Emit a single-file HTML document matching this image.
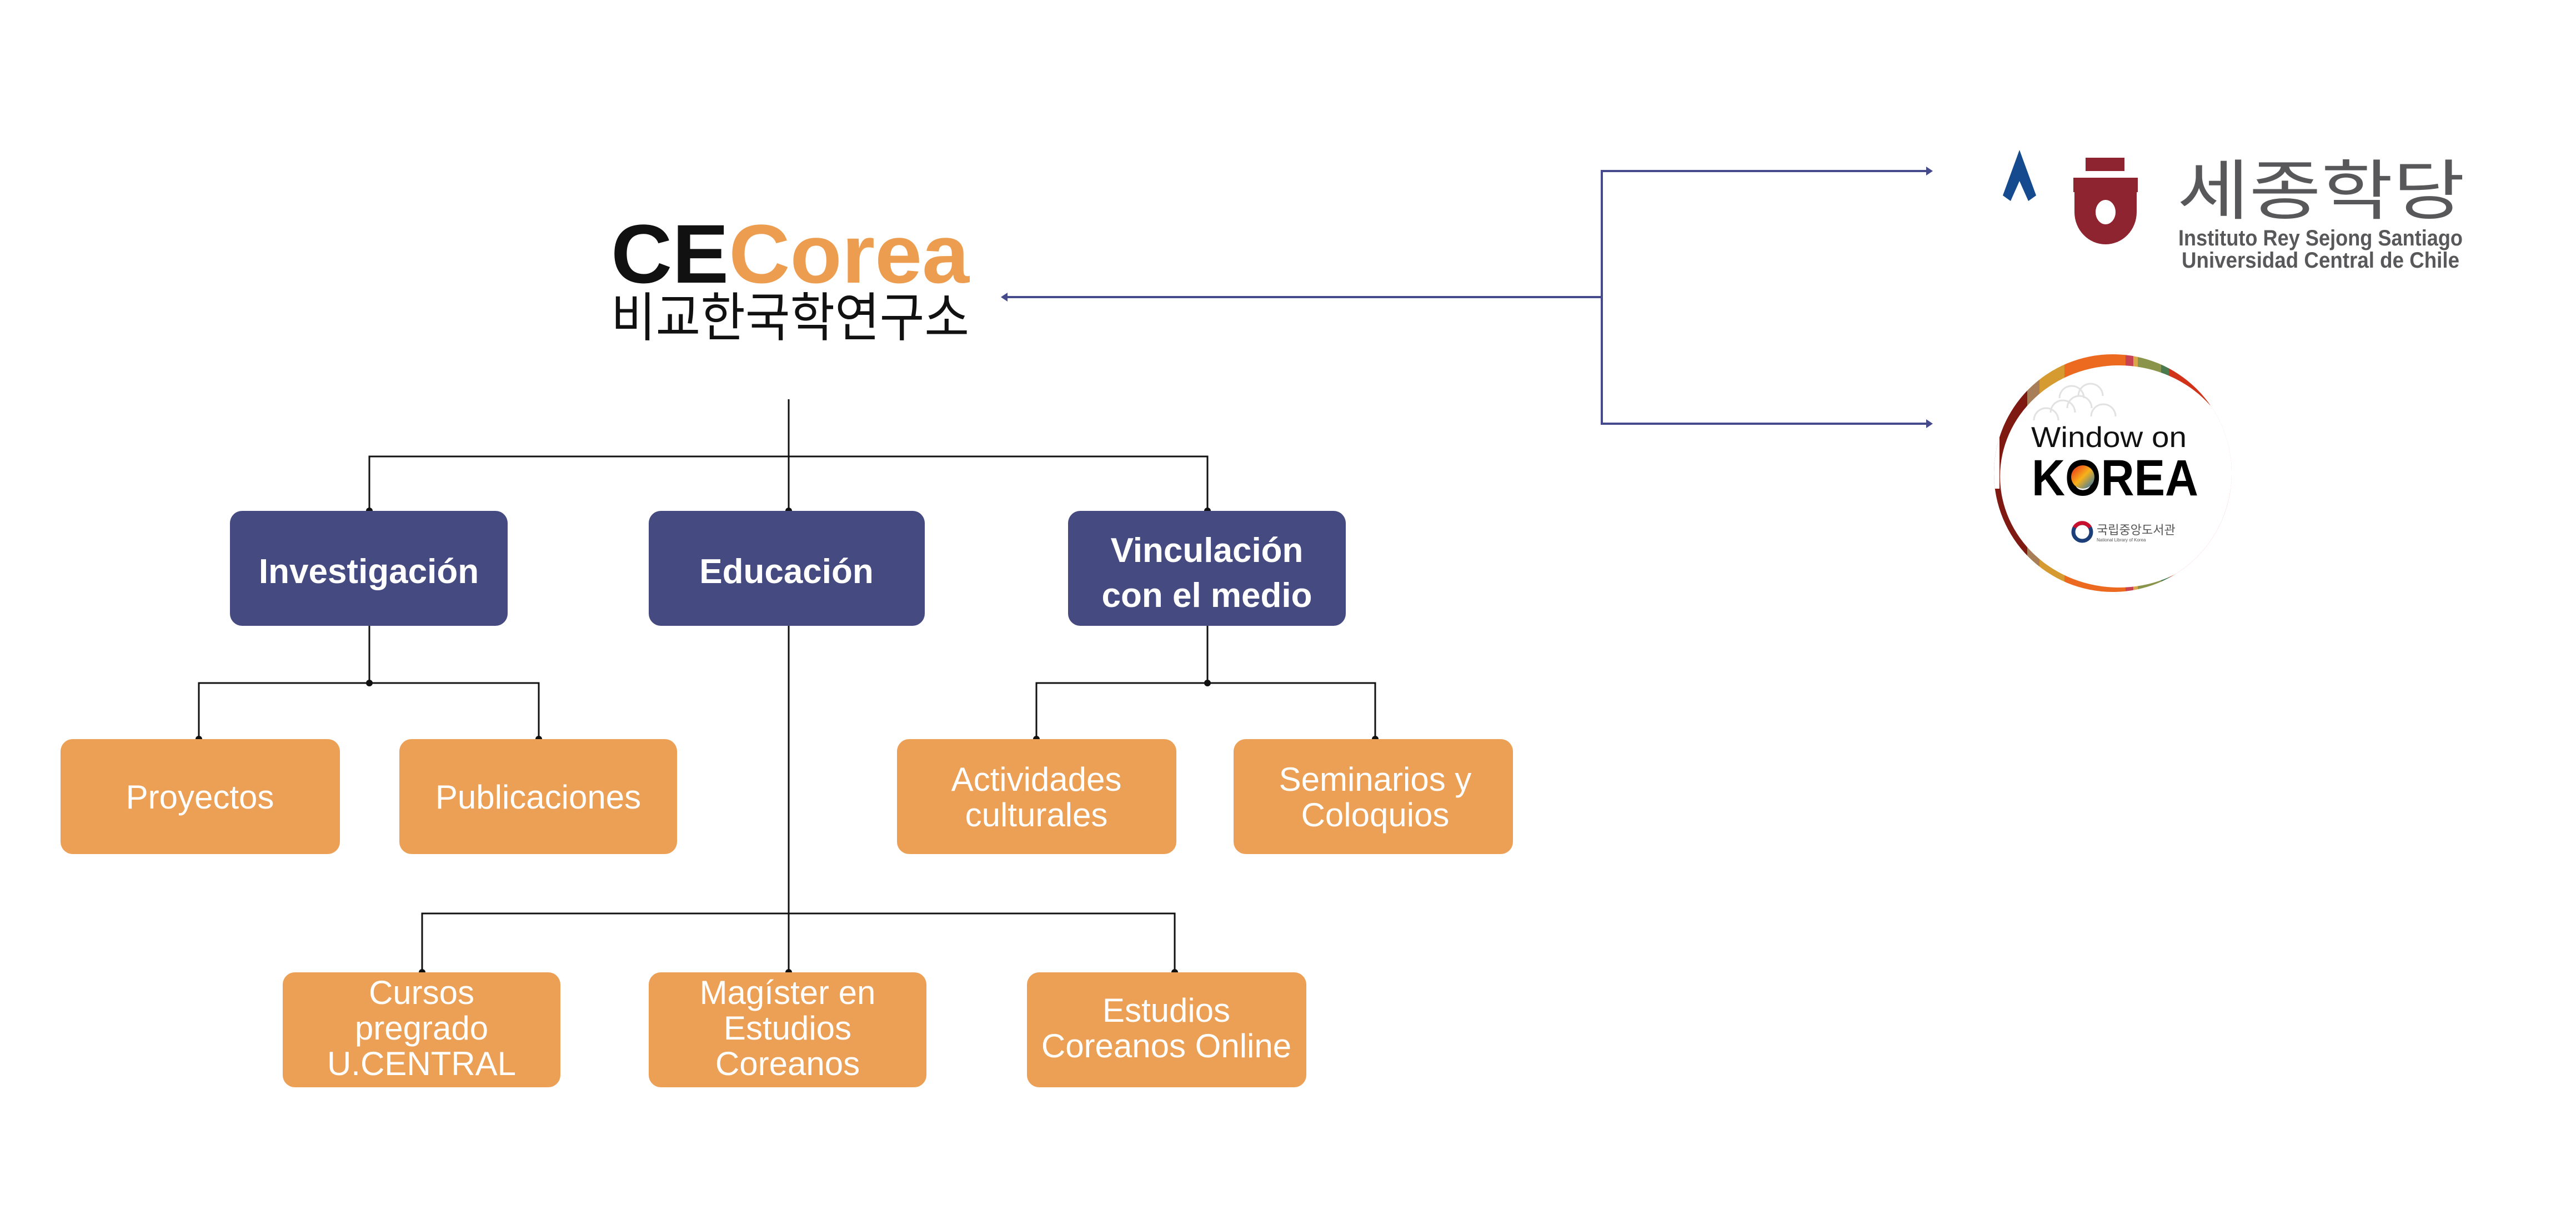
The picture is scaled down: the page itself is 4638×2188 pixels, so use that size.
<!DOCTYPE html>
<html><head><meta charset="utf-8"><style>
html,body{margin:0;padding:0;background:#fff;}
svg{display:block}
text{font-family:"Liberation Sans","Noto Sans CJK KR",sans-serif;}
</style></head><body>
<svg width="4638" height="2188" viewBox="0 0 4638 2188" xmlns="http://www.w3.org/2000/svg">
<defs>
<clipPath id="cc"><circle cx="3804" cy="852" r="214"/></clipPath>
<linearGradient id="tg" x1="0" y1="0" x2="1" y2="1"><stop offset="0" stop-color="#e8241c"/><stop offset="0.5" stop-color="#f7b21a"/><stop offset="1" stop-color="#1b6fbf"/></linearGradient>
</defs>
<rect width="4638" height="2188" fill="#fff"/>

<!-- Title -->
<text x="1100" y="509" font-size="150" font-weight="bold" fill="#111" textLength="645" lengthAdjust="spacingAndGlyphs">CE<tspan fill="#ED9D50">Corea</tspan></text>
<text x="1100" y="605" font-size="95" fill="#111" textLength="645" lengthAdjust="spacingAndGlyphs">비교한국학연구소</text>

<!-- blue connectors -->
<g stroke="#454A8C" stroke-width="4" fill="none">
<line x1="2884" y1="535" x2="1812" y2="535"/>
<polyline points="3470,308 2884,308 2884,763 3470,763"/>
</g>
<g fill="#454A8C">
<polygon points="1802,535 1814,527 1814,543"/>
<polygon points="3480,308 3468,300 3468,316"/>
<polygon points="3480,763 3468,755 3468,771"/>
</g>

<!-- black connectors -->
<g stroke="#111" stroke-width="3" fill="none">
<line x1="1420" y1="719" x2="1420" y2="1751"/>
<polyline points="665,920 665,822 2174,822 2174,920"/>
<line x1="665" y1="1127" x2="665" y2="1230"/>
<polyline points="358,1331 358,1230 970,1230 970,1331"/>
<line x1="2174" y1="1127" x2="2174" y2="1230"/>
<polyline points="1866,1331 1866,1230 2476,1230 2476,1331"/>
<polyline points="760,1751 760,1645 2115,1645 2115,1751"/>
</g>
<g fill="#111">
<circle cx="665" cy="920" r="6"/><circle cx="1420" cy="920" r="6"/><circle cx="2174" cy="920" r="6"/>
<circle cx="665" cy="1230" r="6"/><circle cx="2174" cy="1230" r="6"/>
<circle cx="358" cy="1331" r="6"/><circle cx="970" cy="1331" r="6"/>
<circle cx="1866" cy="1331" r="6"/><circle cx="2476" cy="1331" r="6"/>
<circle cx="760" cy="1751" r="6"/><circle cx="1420" cy="1751" r="6"/><circle cx="2115" cy="1751" r="6"/>
</g>

<!-- dark boxes -->
<g fill="#454A80">
<rect x="414" y="920" width="500" height="207" rx="22"/>
<rect x="1168" y="920" width="497" height="207" rx="22"/>
<rect x="1923" y="920" width="500" height="207" rx="22"/>
</g>
<g fill="#fff" font-weight="bold" font-size="62" text-anchor="middle">
<text x="664" y="1050">Investigación</text>
<text x="1416" y="1050">Educación</text>
<text x="2173" y="1012">Vinculación</text>
<text x="2173" y="1093">con el medio</text>
</g>

<!-- orange boxes -->
<g fill="#ECA055">
<rect x="109" y="1331" width="503" height="207" rx="22"/>
<rect x="719" y="1331" width="500" height="207" rx="22"/>
<rect x="1615" y="1331" width="503" height="207" rx="22"/>
<rect x="2221" y="1331" width="503" height="207" rx="22"/>
<rect x="509" y="1751" width="500" height="207" rx="22"/>
<rect x="1168" y="1751" width="500" height="207" rx="22"/>
<rect x="1849" y="1751" width="503" height="207" rx="22"/>
</g>
<g fill="#fff" font-size="60" text-anchor="middle">
<text x="360" y="1456">Proyectos</text>
<text x="969" y="1456">Publicaciones</text>
<text x="1866" y="1424">Actividades</text>
<text x="1866" y="1488">culturales</text>
<text x="2476" y="1424">Seminarios y</text>
<text x="2476" y="1488">Coloquios</text>
<text x="759" y="1808">Cursos</text>
<text x="759" y="1872">pregrado</text>
<text x="759" y="1936">U.CENTRAL</text>
<text x="1418" y="1808">Magíster en</text>
<text x="1418" y="1872">Estudios</text>
<text x="1418" y="1936">Coreanos</text>
<text x="2100" y="1840">Estudios</text>
<text x="2100" y="1904">Coreanos Online</text>
</g>

<!-- Sejong logo -->
<polygon points="3636,270 3606,352 3620,362 3636,326 3652,362 3666,352" fill="#154A8F"/>
<rect x="3755" y="284" width="70" height="24" fill="#8E2430"/>
<rect x="3733" y="320" width="116" height="26" fill="#8E2430"/>
<path d="M3735,346 L3847,346 L3847,382 A56,58 0 0 1 3735,382 Z" fill="#8E2430"/>
<ellipse cx="3791" cy="382" rx="18" ry="22" fill="#fff"/>
<text x="3920" y="385" font-size="118" fill="#58585a" textLength="518" lengthAdjust="spacingAndGlyphs">세종학당</text>
<text x="3922" y="442" font-size="40" font-weight="bold" fill="#58585a" textLength="512" lengthAdjust="spacingAndGlyphs">Instituto Rey Sejong Santiago</text>
<text x="3928" y="482" font-size="40" font-weight="bold" fill="#58585a" textLength="500" lengthAdjust="spacingAndGlyphs">Universidad Central de Chile</text>

<!-- Window on Korea -->
<g clip-path="url(#cc)">
<rect x="3580" y="630" width="450" height="450" fill="#fff"/>
<rect x="3580" y="630" width="70" height="450" fill="#7F1A12"/>
<rect x="3650" y="630" width="22" height="450" fill="#A77E57"/>
<rect x="3672" y="630" width="45" height="450" fill="#D69B30"/>
<rect x="3717" y="630" width="110" height="450" fill="#EC6A20"/>
<rect x="3827" y="630" width="14" height="450" fill="#C84453"/>
<rect x="3841" y="630" width="8" height="450" fill="#D8A74A"/>
<rect x="3849" y="630" width="42" height="450" fill="#8A944A"/>
<rect x="3891" y="630" width="14" height="450" fill="#4A7A4D"/>
<rect x="3905" y="630" width="130" height="450" fill="#D0321A"/>
<ellipse cx="3815" cy="858" rx="214" ry="200" fill="#fff"/>
<rect x="3580" y="730" width="20" height="150" fill="#fff"/>
<rect x="3900" y="730" width="130" height="150" fill="#fff"/>
</g>
<g fill="none" stroke="#e2e2e2" stroke-width="3">
<path d="M3662,757 a22,22 0 0 1 44,0 M3692,743 a22,22 0 0 1 44,0 M3722,735 a22,22 0 0 1 44,0 M3708,717 a22,22 0 0 1 44,0 M3742,713 a22,22 0 0 1 44,0 M3765,750 a22,22 0 0 1 44,0"/>
</g>
<text x="3657" y="805" font-size="52" fill="#111" textLength="280" lengthAdjust="spacingAndGlyphs">Window on</text>
<text x="3658" y="892" font-size="92" font-weight="bold" fill="#000" textLength="300" lengthAdjust="spacingAndGlyphs">KOREA</text>
<circle cx="3750" cy="859" r="21" fill="url(#tg)"/>
<circle cx="3749" cy="958" r="16" fill="none" stroke="#1c3f7a" stroke-width="7"/>
<path d="M3735,950 a16,16 0 0 1 28,0" fill="none" stroke="#c8102e" stroke-width="7"/>
<text x="3775" y="962" font-size="22" fill="#555">국립중앙도서관</text>
<text x="3775" y="975" font-size="8" fill="#555">National Library of Korea</text>
</svg>
</body></html>
